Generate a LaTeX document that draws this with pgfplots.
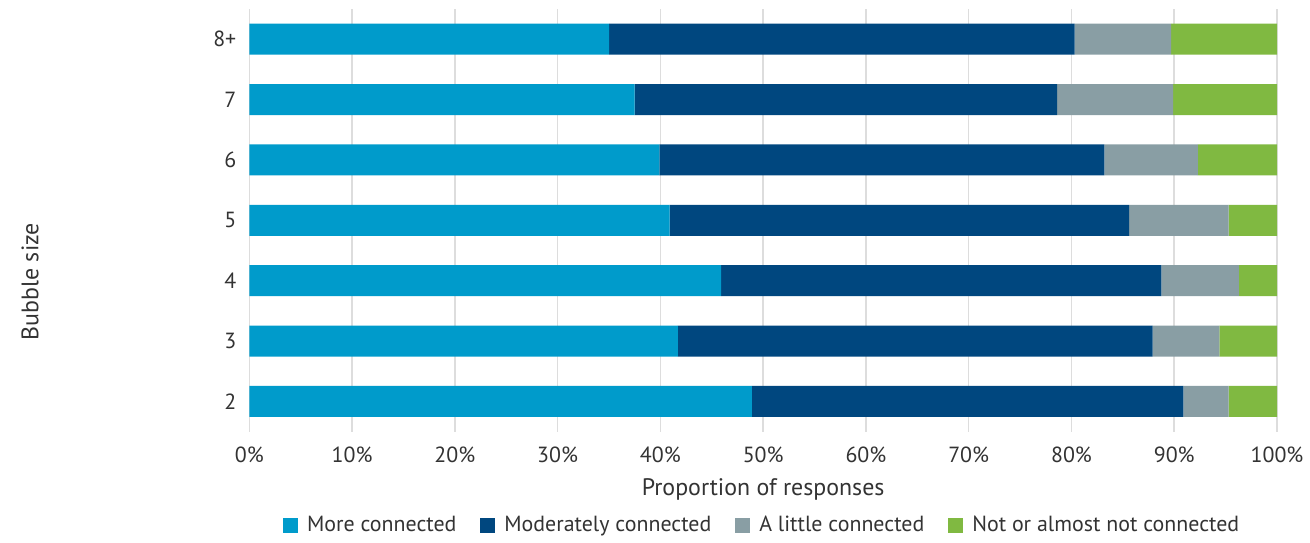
\documentclass[border=0pt]{standalone}
\usepackage{pgfplots}
\pgfplotsset{compat=1.18}
\usepackage{fontspec}
\setmainfont{PT Sans}
\definecolor{cMore}{HTML}{009BCB}
\definecolor{cMod}{HTML}{00477F}
\definecolor{cLittle}{HTML}{899EA4}
\definecolor{cNot}{HTML}{80B941}
\definecolor{cText}{HTML}{333333}
\definecolor{cGrid}{HTML}{DDDDDD}
\begin{document}
\begin{tikzpicture}
\begin{axis}[
  scale only axis,
  width=514.25bp, height=211.5bp,
  xbar stacked,
  bar width=15.5bp,
  xmin=0, xmax=100,
  ymin=-0.5, ymax=6.5,
  ytick={0,1,2,3,4,5,6},
  yticklabels={2,3,4,5,6,7,8+},
  xtick={0,10,...,100},
  xticklabel={\pgfmathprintnumber{\tick}\%},
  /pgf/number format/assume math mode=true,
  axis line style={draw=none},
  major tick length=0pt,
  xmajorgrids,
  grid style={cGrid, line width=0.8bp},
  font=\fontsize{11}{13}\selectfont,
  tick label style={cText, font=\fontsize{11}{13}\selectfont},
  xticklabel style={yshift=-4bp},
  yticklabel style={xshift=-3bp},
  xlabel={Proportion of responses},
  ylabel={Bubble size},
  xlabel style={cText, font=\fontsize{12}{14}\selectfont, at={(axis description cs:0.5,-0.137)}, anchor=center},
  ylabel style={cText, font=\fontsize{12}{14}\selectfont, at={(axis description cs:-0.2134,0.355)}, anchor=center, rotate=0},
  legend style={draw=none, fill=none, legend columns=-1, at={(axis description cs:0.5,-0.222)}, anchor=center, font=\fontsize{11}{13}\selectfont, text=cText, /tikz/every even column/.append style={column sep=10bp}},
  legend image code/.code={\fill[#1] (0bp,-3.75bp) rectangle (7.5bp,3.75bp); \path (10bp,0bp);},
  clip=false,
]
\addplot[fill=cMore, draw=none] coordinates {(48.9,0) (41.7,1) (45.9,2) (40.9,3) (39.9,4) (37.5,5) (35.0,6)};
\addplot[fill=cMod, draw=none] coordinates {(42.0,0) (46.2,1) (42.85,2) (44.7,3) (43.3,4) (41.1,5) (45.3,6)};
\addplot[fill=cLittle, draw=none] coordinates {(4.4,0) (6.5,1) (7.55,2) (9.7,3) (9.1,4) (11.3,5) (9.4,6)};
\addplot[fill=cNot, draw=none] coordinates {(4.7,0) (5.6,1) (3.7,2) (4.7,3) (7.7,4) (10.1,5) (10.3,6)};
\legend{More connected, Moderately connected, A little connected, Not or almost not connected}
\path (axis description cs:-0.2426,1.0213) rectangle (axis description cs:1.0311,-0.2482);
\end{axis}
\end{tikzpicture}
\end{document}
